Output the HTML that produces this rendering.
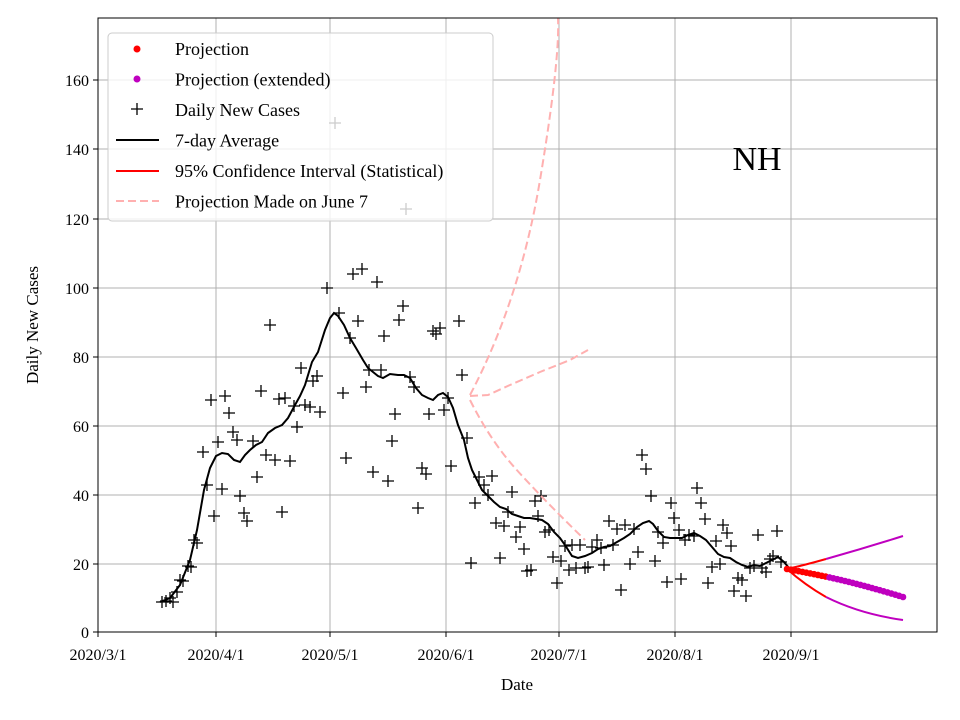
<!DOCTYPE html><html><head><meta charset="utf-8"><style>body{margin:0;background:#fff}svg{display:block;font-family:"Liberation Serif",serif}</style></head><body>
<svg id="s" width="960" height="720" viewBox="0 0 960 720"></svg>
<script>
const s=document.getElementById('s');let h='';
const X0=98,X1=937,Y0=18,Y1=632;
const xt=[[98,'2020/3/1'],[216,'2020/4/1'],[330,'2020/5/1'],[446,'2020/6/1'],[559,'2020/7/1'],[675,'2020/8/1'],[791,'2020/9/1']];
const yt=[[632,0],[564,20],[495,40],[426,60],[357,80],[288,100],[219,120],[149,140],[80,160]];
h+=`<rect x="${X0}" y="${Y0}" width="${X1-X0}" height="${Y1-Y0}" fill="#fff"/>`;
xt.forEach(([x,t])=>{h+=`<line x1="${x}" y1="${Y0}" x2="${x}" y2="${Y1}" stroke="#b0b0b0" stroke-width="1"/><line x1="${x}" y1="${Y1}" x2="${x}" y2="${Y1+5}" stroke="#000"/><text x="${x}" y="${Y1+28}" font-size="16" text-anchor="middle">${t}</text>`});
yt.forEach(([y,t])=>{h+=`<line x1="${X0}" y1="${y}" x2="${X1}" y2="${y}" stroke="#b0b0b0" stroke-width="1"/><line x1="${X0-5}" y1="${y}" x2="${X0}" y2="${y}" stroke="#000"/><text x="${X0-9}" y="${y+6}" font-size="16" text-anchor="end">${t}</text>`});
const pts=[[162,602],[166,601],[170,598],[173,602],[177,592],[180,580],[183,581],[188,566],[191,567],[194,540],[197,543],[203,452],[207,485],[211,400],[214,516],[218,442],[222,489],[225,396],[229,413],[233,432],[237,440],[240,496],[244,513],[247,521],[253,441],[257,477],[261,391],[266,455],[270,325],[275,460],[279,399],[282,512],[285,398],[290,461],[294,406],[297,427],[301,368],[305,405],[310,407],[313,381],[317,376],[320,412],[327,288],[335,123],[339,313],[343,393],[346,458],[350,338],[353,274],[358,321],[362,269],[366,387],[369,370],[373,472],[377,282],[381,370],[384,336],[388,481],[392,441],[395,414],[399,320],[403,306],[406,209],[410,377],[414,387],[418,508],[422,468],[426,474],[429,414],[433,331],[436,334],[440,328],[444,410],[448,398],[451,466],[459,321],[462,375],[467,438],[471,563],[475,503],[479,477],[484,485],[488,495],[492,476],[496,523],[500,558],[504,526],[508,512],[512,492],[516,537],[520,527],[524,549],[527,571],[531,570],[535,501],[538,516],[541,496],[545,532],[549,530],[553,557],[557,583],[561,561],[565,546],[569,570],[572,545],[576,568],[580,545],[585,568],[588,567],[592,547],[597,540],[601,548],[604,565],[609,521],[613,545],[617,529],[621,590],[625,525],[630,564],[634,529],[638,552],[642,455],[646,469],[651,496],[655,561],[658,532],[663,543],[667,582],[671,503],[674,518],[679,530],[681,579],[685,540],[689,535],[694,536],[697,488],[701,503],[705,519],[708,583],[712,567],[716,541],[720,564],[723,525],[727,533],[731,546],[734,591],[738,578],[742,580],[746,596],[750,568],[754,566],[758,535],[762,568],[766,572],[770,559],[773,556],[777,531],[781,562]];
pts.forEach(([x,y])=>{h+=`<path d="M${x-6} ${y}h12M${x} ${y-6}v12" stroke="#000" stroke-width="1.3"/>`});
const avg=[[160,602],[170,598],[180,585],[190,560],[197,530],[204,490],[210,468],[216,456],[222,453],[228,454],[234,460],[240,462],[245,455],[250,450],[256,445],[262,442],[268,433],[275,428],[282,425],[288,418],[295,405],[300,396],[305,385],[312,362],[318,352],[325,330],[330,318],[334,313],[338,316],[344,325],[350,338],[356,348],[363,360],[368,368],[373,372],[378,376],[383,378],[390,374],[398,375],[404,375],[410,378],[416,388],[422,395],[428,398],[433,400],[438,395],[443,393],[448,397],[453,408],[458,425],[464,440],[468,458],[472,470],[477,480],[482,490],[488,496],[494,502],[500,507],[506,509],[512,514],[518,516],[524,518],[530,518],[536,519],[542,520],[548,524],[554,532],[560,538],[565,545],[572,556],[578,558],[585,556],[592,553],[598,549],[604,547],[610,546],[617,542],[624,538],[630,534],[637,527],[643,523],[649,521],[653,524],[658,531],[664,537],[670,538],[676,538],[682,538],[688,535],[694,533],[700,536],[706,540],[712,547],[718,554],[724,557],[730,558],[736,562],[742,565],[748,567],[754,565],[760,566],[766,563],[772,560],[778,557],[784,562],[789,568]];
h+=`<polyline points="${avg.join(' ')}" fill="none" stroke="#000" stroke-width="2"/>`;
const pk='fill="none" stroke="#ffb0b0" stroke-width="2" stroke-dasharray="8,4"';
h+=`<path d="M470 395 Q520 300 540 180 T558 18" ${pk}/>`;
h+=`<path d="M470 396 L488 395 L510 385 L540 372 L570 360 L588 350" ${pk}/>`;
h+=`<path d="M470 400 Q490 440 515 468 T585 540" ${pk}/>`;
h+=`<path d="M787 569 Q805 565 826 559" stroke="red" stroke-width="2" fill="none"/><path d="M787 569 Q805 585 826 597" stroke="red" stroke-width="2" fill="none"/>`;
h+=`<path d="M826 559 Q865 548 903 536" stroke="#bf00bf" stroke-width="2" fill="none"/><path d="M826 597 Q860 614 903 620" stroke="#bf00bf" stroke-width="2" fill="none"/>`;
for(let i=0;i<=30;i++){const x=787+i*(116/30),y=569+i*(28/30)-Math.sin(i/30*Math.PI)*2;h+=`<circle cx="${x}" cy="${y}" r="3.3" fill="${x<826?'red':'#bf00bf'}"/>`;}
h+=`<rect x="${X0}" y="${Y0}" width="${X1-X0}" height="${Y1-Y0}" fill="none" stroke="#000" stroke-width="1"/>`;
h+=`<g><rect x="108" y="33" width="385" height="188" rx="4" fill="#fff" fill-opacity="0.8" stroke="#ccc"/>`;
h+=`<circle cx="137" cy="49" r="3.5" fill="red"/><circle cx="137" cy="79" r="3.5" fill="#bf00bf"/><path d="M131 109h12M137 103v12" stroke="#000" stroke-width="1.3"/>`;
h+=`<line x1="116" y1="140" x2="159" y2="140" stroke="#000" stroke-width="2"/><line x1="116" y1="171" x2="159" y2="171" stroke="red" stroke-width="2"/><line x1="116" y1="201" x2="159" y2="201" stroke="#ffb0b0" stroke-width="2" stroke-dasharray="8,4"/>`;
['Projection','Projection (extended)','Daily New Cases','7-day Average','95% Confidence Interval (Statistical)','Projection Made on June 7'].forEach((t,i)=>{h+=`<text x="175" y="${55+i*30.5}" font-size="18">${t}</text>`});
h+=`</g><text x="757" y="170" font-size="34" text-anchor="middle">NH</text>`;
h+=`<text x="517" y="690" font-size="17" text-anchor="middle">Date</text><text transform="translate(38 325) rotate(-90)" font-size="17" text-anchor="middle">Daily New Cases</text>`;
s.innerHTML=h;
</script></body></html>
